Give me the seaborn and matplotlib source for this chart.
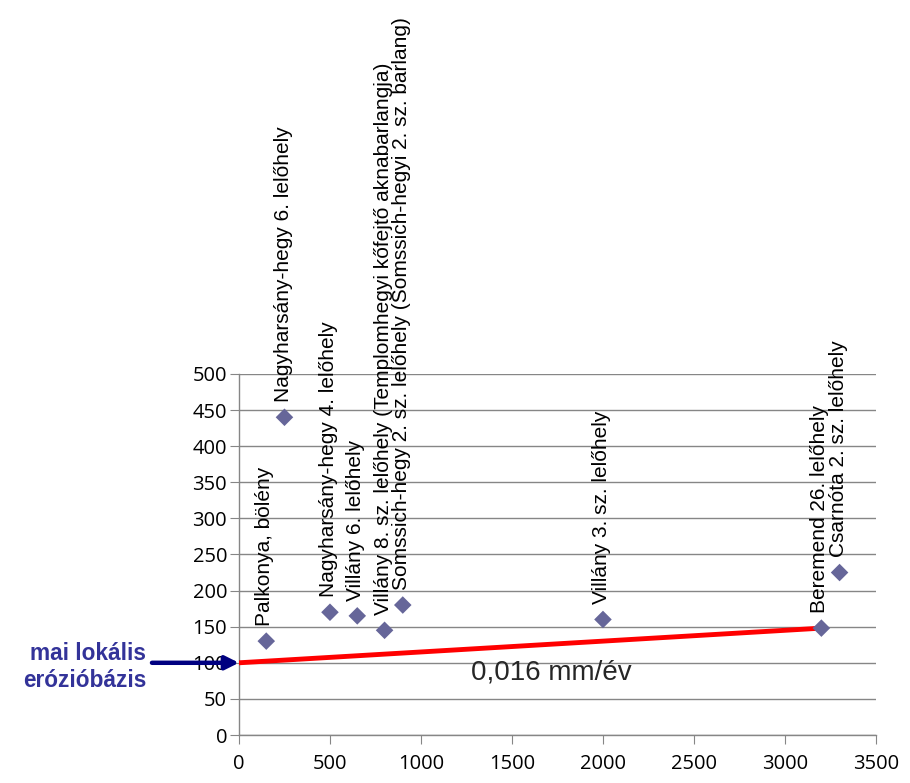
import numpy as np
import pandas as pd
import matplotlib.pyplot as plt
import seaborn as sns

# lelőhelyek: kor (x) és magasság (y)
sites = [
    'Palkonya, bölény',
    'Nagyharsány-hegy 6. lelőhely',
    'Nagyharsány-hegy 4. lelőhely',
    'Villány 6. lelőhely',
    'Villány 8. sz. lelőhely (Templomhegyi kőfejtő aknabarlangja)',
    'Somssich-hegy 2. sz. lelőhely (Somssich-hegyi 2. sz. barlang)',
    'Villány 3. sz. lelőhely',
    'Beremend 26. lelőhely',
    'Csarnóta 2. sz. lelőhely',
]
age = [150, 250, 500, 650, 800, 900, 2000, 3200, 3300]
height = [130, 440, 170, 165, 145, 180, 160, 148, 225]

trend_x = [0, 3200]
trend_y = [100, 148]

x_ticks = [0, 500, 1000, 1500, 2000, 2500, 3000, 3500]
y_ticks = [0, 50, 100, 150, 200, 250, 300, 350, 400, 450, 500]

df = pd.DataFrame({'site': sites, 'age': age, 'height': height})
trend = pd.DataFrame({'x': trend_x, 'y': trend_y})

sns.set_style('white')
plt.rcParams['font.family'] = ['Liberation Sans', 'DejaVu Sans']

fig = plt.figure(figsize=(9.1, 7.83), dpi=100)
ax = fig.add_axes([0.2626, 0.0613, 0.70, 0.4611])

ax.yaxis.grid(True, color='#868686', linewidth=1)
ax.set_axisbelow(True)

sns.lineplot(data=trend, x='x', y='y', color='#ff0000', linewidth=3.5, ax=ax,
             zorder=3)
sns.scatterplot(data=df, x='age', y='height', marker='D', s=80,
                color='#666699', edgecolor='none', ax=ax, zorder=4)

for _, r in df.iterrows():
    ax.annotate(r['site'], (r['age'], r['height']), xytext=(-1, 11),
                textcoords='offset points', rotation=90, ha='center',
                va='bottom', fontsize=15, color='black')

ax.set_xlim(0, 3500)
ax.set_ylim(0, 500)
ax.set_xticks(x_ticks)
ax.set_yticks(y_ticks)
ax.tick_params(axis='both', labelsize=14.5, colors='black', length=6.5,
               color='#868686', direction='out', left=True, bottom=True,
               labelfontfamily='Open Sans')
ax.tick_params(axis='y', pad=2)
ax.tick_params(axis='x', pad=7)
ax.set_xlabel('')
ax.set_ylabel('')
for side in ['top', 'right']:
    ax.spines[side].set_visible(False)
for side in ['left', 'bottom']:
    ax.spines[side].set_color('#868686')
    ax.spines[side].set_linewidth(1)

ax.text(1714, 87, '0,016 mm/év', fontsize=20, ha='center', va='center')

ax.annotate('', xy=(0, 100), xytext=(-478, 100),
            arrowprops=dict(arrowstyle='-|>,head_length=0.8,head_width=0.4',
                            color='#000080', linewidth=3.2,
                            shrinkA=0, shrinkB=0),
            annotation_clip=False)
ax.text(-510, 94, 'mai lokális\nerózióbázis', fontsize=16.3, fontweight='bold',
        color='#333399', ha='right', va='center', multialignment='right',
        linespacing=1.2)

fig.savefig('out.png', dpi=100)
